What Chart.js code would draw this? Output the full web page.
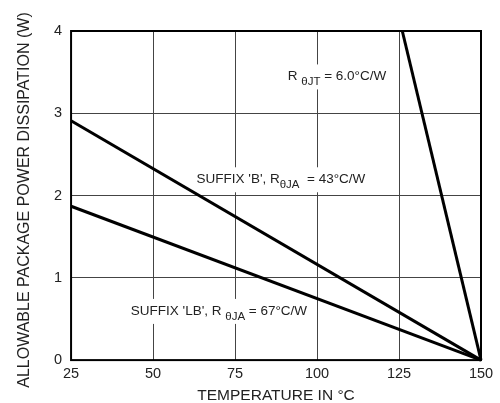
<!DOCTYPE html>
<html>
<head>
<meta charset="utf-8">
<script src="https://cdn.jsdelivr.net/npm/chart.js@4"></script>
<style>
html,body{margin:0;padding:0;background:#fff;}
#wrap{width:500px;height:403px;}
</style>
</head>
<body>
<div id="wrap"><canvas id="c" width="500" height="403"></canvas></div>
<script>
// Data
const xTicks = [25, 50, 75, 100, 125, 150];
const yTicks = [0, 1, 2, 3, 4];
const lineJT = [{x: 126, y: 4.0}, {x: 150, y: 0}];
const lineB = [{x: 25, y: 2.91}, {x: 150, y: 0}];
const lineLB = [{x: 25, y: 1.87}, {x: 150, y: 0}];
const xTitle = 'TEMPERATURE IN °C';
const yTitle = 'ALLOWABLE PACKAGE POWER DISSIPATION (W)';
// labels: [prefix, subscript, suffix, x, y]
const labelTexts = [
  ["R ", "θJT", " = 6.0°C/W", 106.1, 3.46],
  ["SUFFIX 'B', R", "θJA", "  = 43°C/W", 89.0, 2.21],
  ["SUFFIX 'LB', R ", "θJA", " = 67°C/W", 70.1, 0.61]
];

const FONT = "'Liberation Sans', Arial, sans-serif";

const annot = {
  id: 'annot',
  beforeDatasetsDraw(chart) {
    const ctx = chart.ctx;
    const xs = chart.scales.x, ys = chart.scales.y;
    ctx.save();
    ctx.textBaseline = 'alphabetic';
    for (const [p, s, q, tx, ty] of labelTexts) {
      const mainF = '13.5px ' + FONT, subF = '11.5px ' + FONT;
      ctx.font = mainF; const w1 = ctx.measureText(p).width; const w3 = ctx.measureText(q).width;
      ctx.font = subF; const w2 = ctx.measureText(s).width;
      const total = w1 + w2 + w3;
      const cx = xs.getPixelForValue(tx), cy = ys.getPixelForValue(ty);
      const x0 = cx - total / 2;
      const base = cy + 5;
      ctx.fillStyle = '#fff';
      ctx.fillRect(x0 - 4, cy - 11, total + 8, 25);
      ctx.fillStyle = '#222';
      ctx.font = mainF; ctx.fillText(p, x0, base);
      ctx.font = subF; ctx.fillText(s, x0 + w1, base + 5);
      ctx.font = mainF; ctx.fillText(q, x0 + w1 + w2, base);
    }
    // y title
    ctx.translate(25, 200);
    ctx.rotate(-Math.PI / 2);
    ctx.font = '16px ' + FONT;
    ctx.textAlign = 'center';
    ctx.textBaseline = 'middle';
    ctx.fillStyle = '#222';
    ctx.fillText(yTitle, 0, 0);
    ctx.restore();
  },
  afterDatasetsDraw(chart) {
    const ctx = chart.ctx;
    const a = chart.chartArea;
    ctx.save();
    ctx.strokeStyle = '#000';
    ctx.lineWidth = 2;
    ctx.strokeRect(a.left, a.top, a.right - a.left, a.bottom - a.top);
    ctx.restore();
  }
};

const ds = (d) => ({data: d, showLine: true, borderColor: '#000', borderWidth: 3, pointRadius: 0, fill: false, tension: 0, clip: 2});

new Chart(document.getElementById('c'), {
  type: 'scatter',
  data: { datasets: [ds(lineJT), ds(lineB), ds(lineLB)] },
  options: {
    responsive: false,
    animation: false,
    devicePixelRatio: 1,
    layout: { padding: { left: 45, right: 19, top: 31, bottom: 0 } },
    plugins: { legend: { display: false }, tooltip: { enabled: false } },
    scales: {
      x: {
        type: 'linear', min: 25, max: 150,
        afterBuildTicks: (s) => { s.ticks = xTicks.map(v => ({value: v})); },
        ticks: { color: '#222', font: { family: FONT, size: 14.5 }, padding: 5 },
        grid: { color: '#444', lineWidth: 1, drawTicks: false },
        border: { display: false },
        title: { display: true, text: xTitle, color: '#222', font: { family: FONT, size: 15.5, lineHeight: 1 }, padding: { top: 0, bottom: 0 } }
      },
      y: {
        type: 'linear', min: 0, max: 4,
        afterBuildTicks: (s) => { s.ticks = yTicks.map(v => ({value: v})); },
        ticks: { color: '#222', font: { family: FONT, size: 14.5 }, padding: 9 },
        grid: { color: '#444', lineWidth: 1, drawTicks: false },
        border: { display: false },
        title: { display: false }
      }
    }
  },
  plugins: [annot]
});
</script>
</body>
</html>
